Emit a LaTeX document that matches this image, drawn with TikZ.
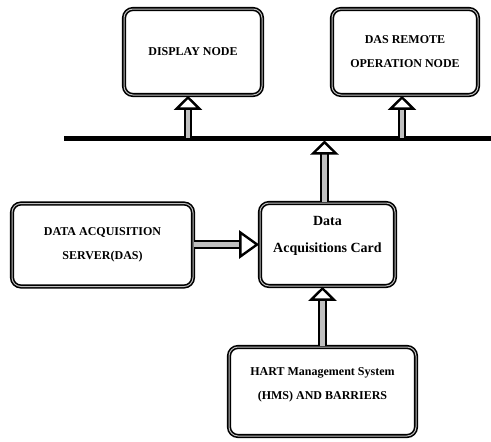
\documentclass[tikz,border=0pt]{standalone}
\usepackage{fontspec}
\setmainfont{Liberation Serif}
\usetikzlibrary{arrows.meta}

\tikzset{
  blk/.style={draw, rounded corners=9pt, line width=1.6pt, double=gray!50, double distance=1pt,
    align=center, inner sep=0pt, font=\fontsize{12}{24}\selectfont\bfseries},
  fat/.style={line width=2pt, double=gray!50, double distance=4.5pt,
    -{Triangle[length=14pt,width=28pt,line width=2.4pt,fill=white]}},
  bus/.style={line width=5pt}
}

\begin{document}
\begin{tikzpicture}[x=1pt,y=-1pt]
    \useasboundingbox (0,0) rectangle (491,442);
    \node[blk, minimum width=138pt, minimum height=86pt] (disp) at (193,52) {DISPLAY NODE};
    \node[blk, minimum width=146pt, minimum height=86pt] (remote) at (405,52) {DAS REMOTE\\OPERATION NODE};
    \node[blk, minimum width=181pt, minimum height=83pt] (das) at (102.5,245) {DATA ACQUISITION\\SERVER(DAS)};
    \node[blk, minimum width=135pt, minimum height=83pt, text depth=20pt, font=\fontsize{14}{27}\selectfont\bfseries] (card) at (327.5,244.5) {Data\\Acquisitions Card};
    \node[blk, minimum width=187pt, minimum height=89pt, text depth=16pt] (hart) at (322.5,391.5) {HART Management System\\(HMS) AND BARRIERS};
    \coordinate (busL) at (64,138);
    \coordinate (busR) at (491,138);
    \draw[bus] (busL) -- (busR);
    \draw[fat] ([xshift=-5pt]disp.south |- busL) -- ([xshift=-5pt]disp.south);
    \draw[fat] ([xshift=-3pt]remote.south |- busL) -- ([xshift=-3pt]remote.south);
    \draw[fat] ([xshift=-3pt]card.north) -- ([xshift=-3pt,yshift=-2.5pt]card.north |- busL);
    \draw[fat] (hart.north) -- (hart.north |- card.south);
    \draw[fat, -{Triangle[length=20pt,width=28pt,line width=2.4pt,fill=white]}] (das.east |- card.west) -- (card.west);
\end{tikzpicture}
\end{document}
